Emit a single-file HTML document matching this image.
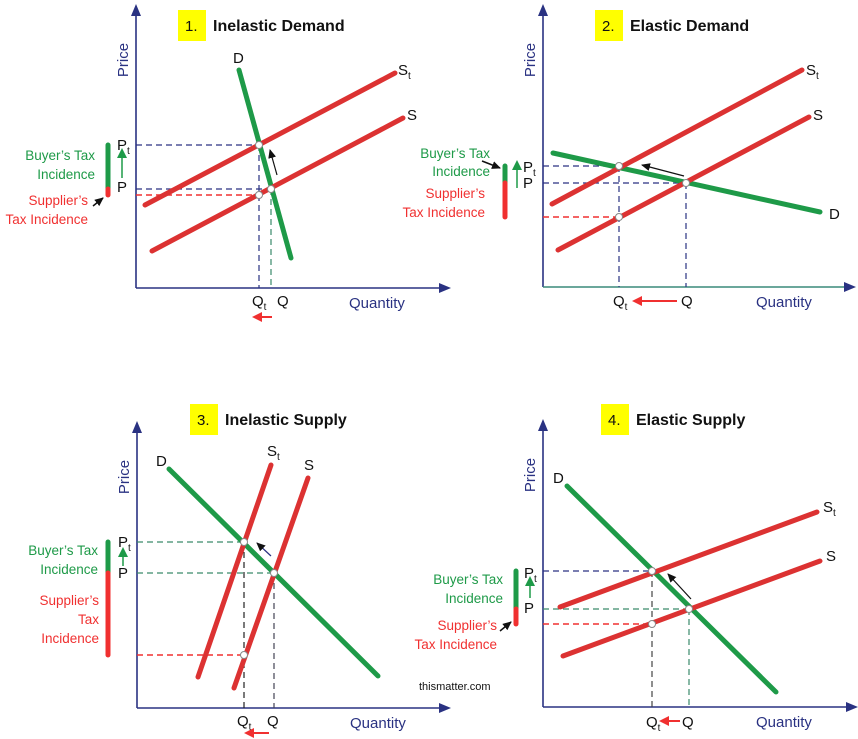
<!DOCTYPE html>
<html><head><meta charset="utf-8"><style>
html,body{margin:0;padding:0;background:#fff;}
svg{display:block;font-family:"Liberation Sans",sans-serif;}
.lbl{font-size:15px;fill:#111;}
.ttl{font-size:16px;font-weight:bold;fill:#111;}
.ax{font-size:15px;fill:#2a3282;}
.g{font-size:13.5px;fill:#1e9a48;}
.r{font-size:13.5px;fill:#f03030;}
</style></head><body>
<svg id="c" width="858" height="739" viewBox="0 0 858 739">
<defs>
<marker id="ab" markerUnits="userSpaceOnUse" markerWidth="12" markerHeight="12" refX="9" refY="6" orient="auto"><path d="M0,1 L12,6 L0,11 z" fill="#2a3282"/></marker>
<marker id="ak" markerUnits="userSpaceOnUse" markerWidth="9" markerHeight="8" refX="8" refY="4" orient="auto"><path d="M0,0 L9,4 L0,8 z" fill="#111"/></marker>
<marker id="ag" markerUnits="userSpaceOnUse" markerWidth="10" markerHeight="10" refX="8" refY="5" orient="auto"><path d="M0,0 L10,5 L0,10 z" fill="#1e9a48"/></marker>
<marker id="ar" markerUnits="userSpaceOnUse" markerWidth="10" markerHeight="10" refX="8" refY="5" orient="auto"><path d="M0,0 L10,5 L0,10 z" fill="#f03030"/></marker>
</defs>
</svg>
<script>
// panel data: [num, title, axisX, axisTop, axisBottom, axisRight, titleX, titleY]
const panels = [
 [1,'Inelastic Demand',136,5,288,450,178,10],
 [2,'Elastic Demand',543,5,287,855,595,10],
 [3,'Inelastic Supply',137,422,708,450,190,404],
 [4,'Elastic Supply',543,420,707,857,601,404]
];
const demand = [[1,239,70,291,258,233,63],[2,553,153,820,212,829,219],[3,169,469,378,676,156,466],[4,567,486,776,692,553,483]];
const supplyTax = [[1,145,205,395,73,398,75],[2,552,204,802,70,806,75],[3,271,465,198,677,267,456],[4,560,607,817,512,823,512]];
const supply = [[1,152,251,403,118,407,120],[2,558,250,809,117,813,120],[3,308,478,234,688,304,470],[4,563,656,820,561,826,561]];
// equilibrium: [Qt, Pt, Q, P, sellerPrice]
const equil = [[259,145,271,189,195],[619,166,686,183,217],[244,542,274,573,655],[652,571,689,609,624]];
const hColors=[['#2a3282','#2a3282'],['#2a3282','#2a3282'],['#3a8a6a','#3a8a6a'],['#2a3282','#3a8a6a']];
const vColors=[['#2a3282','#3a8a6a'],['#2a3282','#2a3282'],['#222','#445'],['#444','#3a8a6a']];
const buyerText=[[95,160,179],[490,158,176],[98,555,574],[503,584,603]];
const supplierText=[[88,['Supplier\u2019s','Tax Incidence'],205],[485,['Supplier\u2019s','Tax Incidence'],198],[99,['Supplier\u2019s','Tax','Incidence'],605],[497,['Supplier\u2019s','Tax Incidence'],630]];
const barX=[108,505,108,516];
const priceLblX=[117,523,118,524];
const priceLblY=[[150,192],[172,188],[547,578],[578,613]];
const greenArrow=[[122,178,150],[517,188,162],[123,566,549],[530,598,578]];
const qLbl=[[252,277],[613,681],[237,267],[646,682]];
const qLblY=[306,306,726,727];
const redArrow=[[272,254,317],[677,634,301],[269,246,733],[680,661,721]];
const moveArrow=[[277,175,270,150],[684,176,642,165],[271,556,257,543],[691,599,668,574]];

const svg=document.getElementById('c');
const NS='http://www.w3.org/2000/svg';
function mk(tag,attrs,parent){const e=document.createElementNS(NS,tag);for(const k in attrs)e.setAttribute(k,attrs[k]);(parent||svg).appendChild(e);return e;}
function txt(s,x,y,cls,anchor,parent){const t=mk('text',{x:x,y:y,class:cls,'text-anchor':anchor||'start'},parent);t.textContent=s;return t;}
function subT(t){const s=document.createElementNS(NS,'tspan');s.setAttribute('font-size','10');s.setAttribute('dy','4');s.textContent='t';t.appendChild(s);}

panels.forEach((p,i)=>{
 const g=mk('g',{});
 
 
 const [n,title,ax,at,ab,ar,tx,ty]=p;
 const yb=mk('rect',{x:tx,y:ty,width:28,height:31,fill:'#ffff00'},g);
 
 
 txt(n+'.',tx+7,ty+21,'lbl','start',g);
 const tt=txt(title,tx+35,ty+21,'ttl','start',g);
 
 
 const yAxis=mk('line',{x1:ax,y1:ab,x2:ax,y2:at+2,stroke:'#2a3282','stroke-width':1.6,'marker-end':'url(#ab)'},g);
 
 
 const xAxis=mk('line',{x1:ax,y1:ab,x2:ar-2,y2:ab,stroke:n==2?'#3a8a7a':'#2a3282','stroke-width':1.6,'marker-end':'url(#ab)'},g);
 
 
 const pr=txt('Price',0,0,'ax','middle',g);
 pr.setAttribute('transform','translate('+(ax-8)+','+(at+55)+') rotate(-90)');
 
 
 const qt=txt('Quantity',ax+213,ab+20,'ax','start',g);
 
 

 const e=equil[i];
 mk('line',{x1:ax,y1:e[1],x2:e[0],y2:e[1],stroke:hColors[i][0],'stroke-width':1.2,'stroke-dasharray':'6,4'},g);
 mk('line',{x1:ax,y1:e[3],x2:e[2],y2:e[3],stroke:hColors[i][1],'stroke-width':1.2,'stroke-dasharray':'6,4'},g);
 mk('line',{x1:ax,y1:e[4],x2:e[0],y2:e[4],stroke:'#f03030','stroke-width':1.4,'stroke-dasharray':'6,4'},g);
 mk('line',{x1:e[0],y1:e[1],x2:e[0],y2:ab,stroke:vColors[i][0],'stroke-width':1.2,'stroke-dasharray':'6,4'},g);
 mk('line',{x1:e[2],y1:e[3],x2:e[2],y2:ab,stroke:vColors[i][1],'stroke-width':1.2,'stroke-dasharray':'6,4'},g);

 const d=demand[i],st=supplyTax[i],s=supply[i];
 const dl=mk('line',{x1:d[1],y1:d[2],x2:d[3],y2:d[4],stroke:'#1e9a48','stroke-width':5,'stroke-linecap':'round'},g);
 
 
 const stl=mk('line',{x1:st[1],y1:st[2],x2:st[3],y2:st[4],stroke:'#dc3232','stroke-width':5,'stroke-linecap':'round'},g);
 
 
 const sl=mk('line',{x1:s[1],y1:s[2],x2:s[3],y2:s[4],stroke:'#dc3232','stroke-width':5,'stroke-linecap':'round'},g);
 
 
 txt('D',d[5],d[6],'lbl','start',g);
 subT(txt('S',st[5],st[6],'lbl','start',g));
 txt('S',s[5],s[6],'lbl','start',g);

 [[e[0],e[1]],[e[2],e[3]],[e[0],e[4]]].forEach(pt=>{
  const c=mk('circle',{cx:pt[0],cy:pt[1],r:3.5,fill:'#fff',stroke:'#888','stroke-width':1},g);
  
  
 });
 const m=moveArrow[i];
 mk('line',{x1:m[0],y1:m[1],x2:m[2],y2:m[3],stroke:n==3?'#2a3282':'#111','stroke-width':1.2,'marker-end':'url(#ak)'},g);

 const px=priceLblX[i];
 subT(txt('P',px,priceLblY[i][0],'lbl','start',g));
 txt('P',px,priceLblY[i][1],'lbl','start',g);
 const ga=greenArrow[i];
 mk('line',{x1:ga[0],y1:ga[1],x2:ga[0],y2:ga[2],stroke:'#1e9a48','stroke-width':1.5,'marker-end':'url(#ag)'},g);

 const bx=barX[i];
 const gb=mk('line',{x1:bx,y1:e[1],x2:bx,y2:e[3],stroke:'#1e9a48','stroke-width':5,'stroke-linecap':'round'},g);
 
 
 const rb=mk('line',{x1:bx,y1:e[3],x2:bx,y2:e[4],stroke:'#f03030','stroke-width':5,'stroke-linecap':'round'},g);
 
 

 const bt=buyerText[i];
 txt('Buyer\u2019s Tax',bt[0],bt[1],'g','end',g);
 txt('Incidence',bt[0],bt[2],'g','end',g);
 const stt=supplierText[i];
 stt[1].forEach((l,k)=>txt(l,stt[0],stt[2]+k*19,'r','end',g));
 if(n==1) mk('line',{x1:93,y1:206,x2:103,y2:198,stroke:'#111','stroke-width':1.5,'marker-end':'url(#ak)'},g);
 if(n==2) mk('line',{x1:482,y1:161,x2:500,y2:168,stroke:'#111','stroke-width':1.5,'marker-end':'url(#ak)'},g);
 if(n==4) mk('line',{x1:500,y1:631,x2:511,y2:622,stroke:'#111','stroke-width':1.5,'marker-end':'url(#ak)'},g);

 const ql=qLbl[i];
 subT(txt('Q',ql[0],qLblY[i],'lbl','start',g));
 txt('Q',ql[1],qLblY[i],'lbl','start',g);
 const ra=redArrow[i];
 mk('line',{x1:ra[0],y1:ra[2],x2:ra[1],y2:ra[2],stroke:'#f03030','stroke-width':2,'marker-end':'url(#ar)'},g);
});
const wm=txt('thismatter.com',419,690,'lbl','start');
wm.setAttribute('style','font-size:11px');


</script>
</body></html>
